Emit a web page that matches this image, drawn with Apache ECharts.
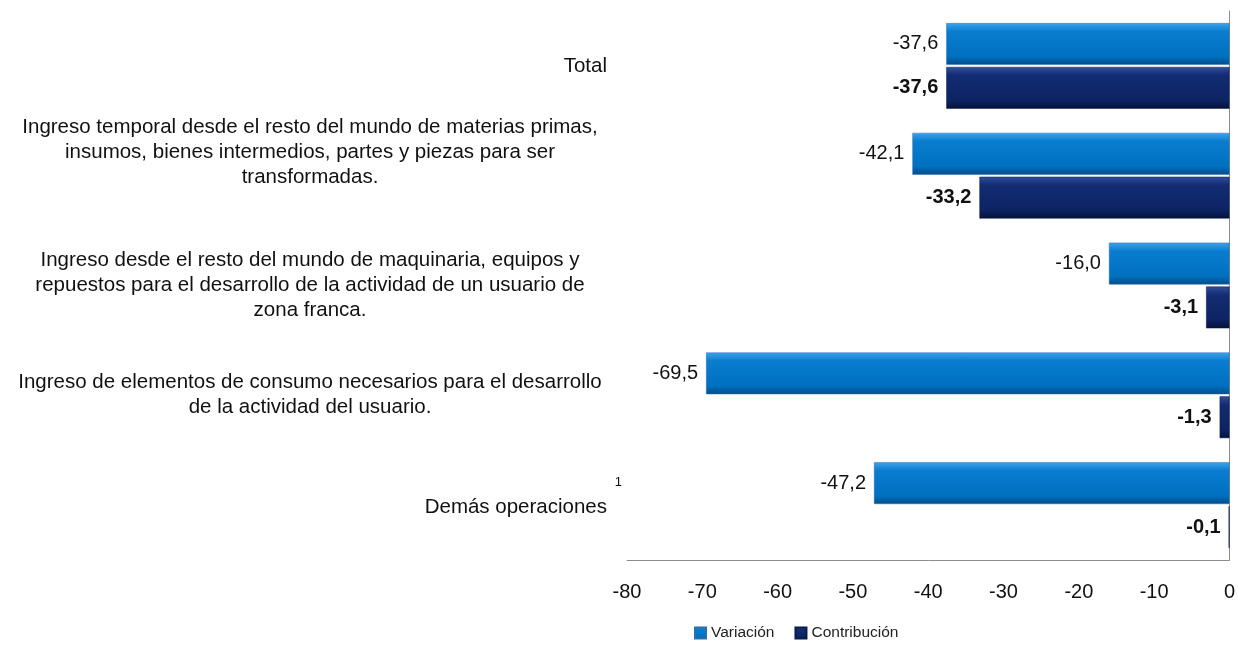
<!DOCTYPE html>
<html>
<head>
<meta charset="utf-8">
<script src="https://cdn.jsdelivr.net/npm/echarts@6/dist/echarts.min.js"></script>
<style>
  html, body { margin: 0; padding: 0; background: #fff; }
  #chart { width: 1238px; height: 647px; }
</style>
</head>
<body>
<div id="chart"></div>
<script>
var categories = [
  'Total',
  'Ingreso temporal desde el resto del mundo de materias primas,\ninsumos, bienes intermedios, partes y piezas para ser\ntransformadas.',
  'Ingreso desde el resto del mundo de maquinaria, equipos y\nrepuestos para el desarrollo de la actividad de un usuario de\nzona franca.',
  'Ingreso de elementos de consumo necesarios para el desarrollo\nde la actividad del usuario.',
  'Demás operaciones'
];
var variacion = [-37.6, -42.1, -16.0, -69.5, -47.2];
var contribucion = [-37.6, -33.2, -3.1, -1.3, -0.1];

var myChart = echarts.init(document.getElementById('chart'));

function fmt(p) {
  return p.value.toFixed(1).replace('.', ',');
}

function labelFormatter(v, i) {
  if (v === 'Demás operaciones') {
    // footnote mark above-right, empty line below keeps text centered
    return '{s|1}\n{d|' + v + '}\n{e| }';
  }
  if (v.indexOf('\n') < 0) {
    return '{r|' + v + '}';
  }
  var out = v.split('\n').map(function (l) { return '{c|' + l + '}'; }).join('\n');
  // the second category label sits higher than its bars in the original
  if (i === 1) out += '\n{c| }\n{e| }';
  return out;
}

var option = {
  textStyle: { fontFamily: 'Liberation Sans' },
  grid: { left: 627, right: 8, top: 11, bottom: 87 },
  legend: {
    left: 689,
    bottom: 1,
    icon: 'rect',
    itemWidth: 11,
    itemHeight: 11,
    itemGap: 20,
    textStyle: { fontSize: 15.5, color: '#222' },
    data: ['Variación', 'Contribución']
  },
  xAxis: {
    type: 'value',
    min: -80,
    max: 0,
    interval: 10,
    axisLine: { show: true, lineStyle: { color: '#8c8c8c' } },
    axisTick: { show: false },
    splitLine: { show: false },
    axisLabel: { fontSize: 20, color: '#111', margin: 22 }
  },
  yAxis: [
    {
      type: 'category',
      inverse: true,
      position: 'left',
      data: categories,
      axisLine: { show: false },
      axisTick: { show: false },
      axisLabel: {
        margin: 5,
        align: 'right',
        formatter: labelFormatter,
        rich: {
          c: { fontSize: 20.5, color: '#111', width: 594, align: 'center', lineHeight: 25, padding: [0, 15, 0, 0] },
          r: { fontSize: 20.5, color: '#111', align: 'right', lineHeight: 25, padding: [0, 15, 0, 0] },
          d: { fontSize: 20.5, color: '#111', align: 'right', lineHeight: 25, padding: [0, 15, 0, 0] },
          s: { fontSize: 13, color: '#111', align: 'right', lineHeight: 25 },
          e: { fontSize: 13, align: 'right', lineHeight: 21 }
        }
      }
    },
    {
      type: 'category',
      inverse: true,
      position: 'right',
      data: categories,
      axisLine: { show: true, lineStyle: { color: '#8c8c8c' } },
      axisTick: { show: false },
      axisLabel: { show: false }
    }
  ],
  series: [
    {
      name: 'Variación',
      type: 'bar',
      data: variacion,
      barGap: '5%',
      barCategoryGap: '22%',
      itemStyle: {
        color: new echarts.graphic.LinearGradient(0, 0, 0, 1, [
          { offset: 0, color: '#3fa3ea' },
          { offset: 0.2, color: '#0a7dd0' },
          { offset: 0.8, color: '#0070c0' },
          { offset: 1, color: '#004d8a' }
        ]),
        borderColor: '#2a6fb0',
        borderWidth: 0.5
      },
      label: {
        show: true,
        position: 'left',
        distance: 8,
        fontSize: 20,
        color: '#111',
        formatter: fmt
      }
    },
    {
      name: 'Contribución',
      type: 'bar',
      data: contribucion,
      itemStyle: {
        color: new echarts.graphic.LinearGradient(0, 0, 0, 1, [
          { offset: 0, color: '#2f4f9e' },
          { offset: 0.2, color: '#132c72' },
          { offset: 0.8, color: '#0c2463' },
          { offset: 1, color: '#05123a' }
        ]),
        borderColor: '#0a1a4a',
        borderWidth: 0.5
      },
      label: {
        show: true,
        position: 'left',
        distance: 8,
        fontSize: 20,
        fontWeight: 'bold',
        color: '#111',
        formatter: fmt
      }
    }
  ]
};

myChart.setOption(option);
</script>
</body>
</html>
